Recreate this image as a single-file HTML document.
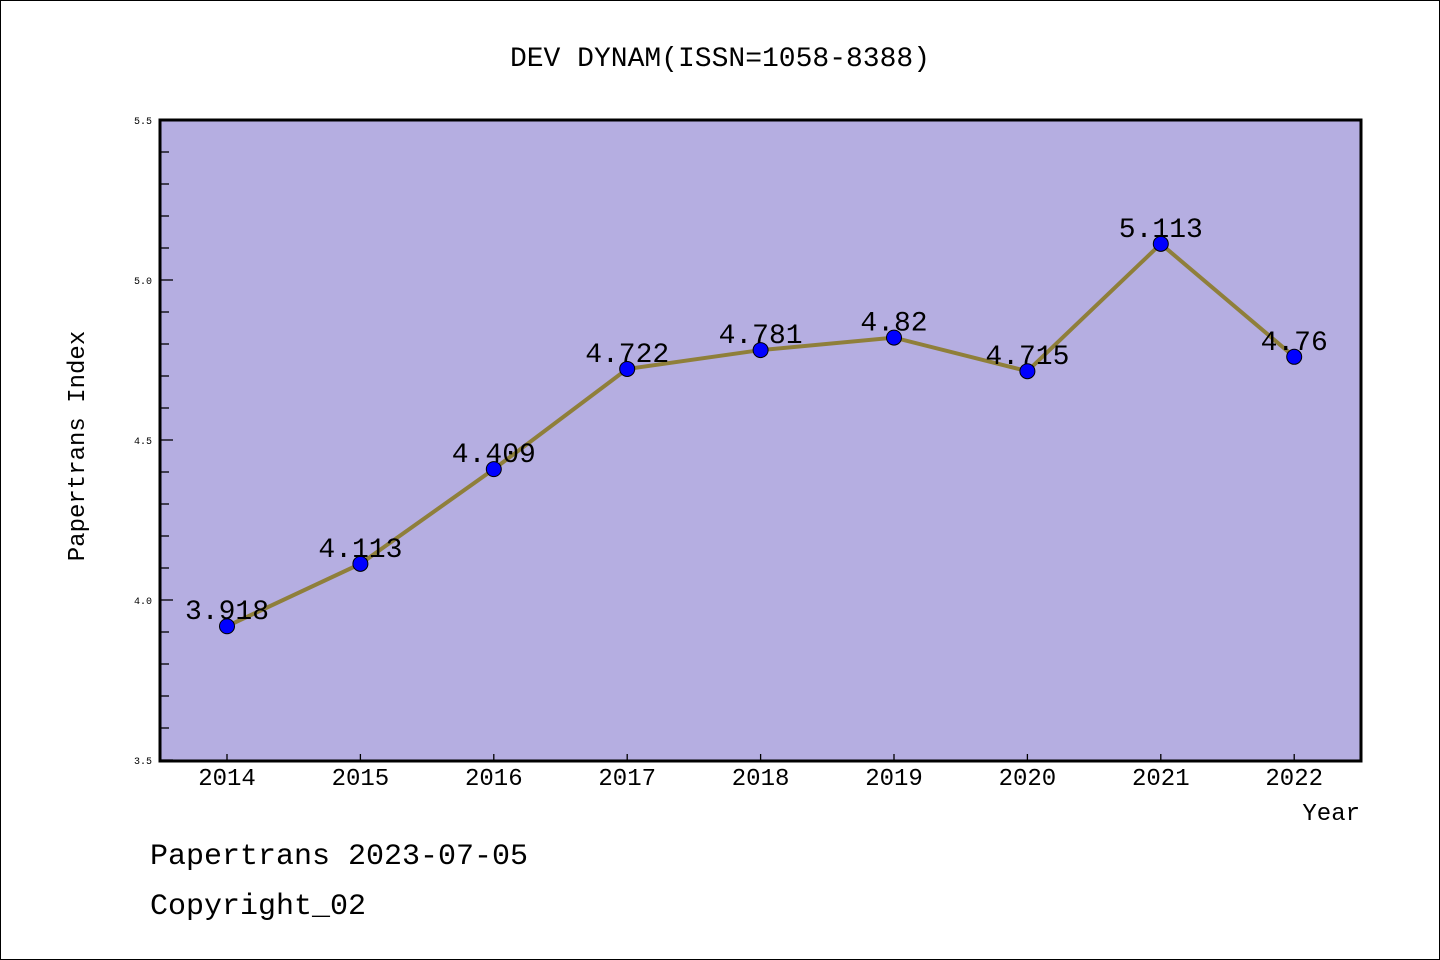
<!DOCTYPE html>
<html><head><meta charset="utf-8"><style>
body{margin:0;background:#fff}
svg{display:block}
text{font-family:"Liberation Mono","DejaVu Sans Mono",monospace;fill:#000}
</style></head><body>
<svg width="1440" height="960">
<rect x="0.5" y="0.5" width="1439" height="959" fill="#fff" stroke="#000"/>
<text x="720" y="66" font-size="28" text-anchor="middle">DEV DYNAM(ISSN=1058-8388)</text>
<rect x="160" y="120" width="1201" height="641" fill="#b5aee1"/>
<g id="yaxis"></g>
<g id="xaxis"></g>
<g id="series"></g>
<rect x="160" y="120" width="1201" height="641" fill="none" stroke="#000" stroke-width="3"/>
<text transform="translate(84,446) rotate(-90)" font-size="24" text-anchor="middle">Papertrans Index</text>
<text x="1360" y="820" font-size="24" text-anchor="end">Year</text>
<text x="150" y="864" font-size="30">Papertrans 2023-07-05</text>
<text x="150" y="914" font-size="30">Copyright_02</text>
</svg>
<script>
const years=["2014","2015","2016","2017","2018","2019","2020","2021","2022"];
const values=[3.918,4.113,4.409,4.722,4.781,4.82,4.715,5.113,4.76];
const valueLabels=["3.918","4.113","4.409","4.722","4.781","4.82","4.715","5.113","4.76"];
const yTicks=["3.5","4.0","4.5","5.0","5.5"];
const NS="http://www.w3.org/2000/svg";
function y(v){return 760-(v-3.5)*320;}
function x(i){return 227+i*133.4;}
function mk(t,a,p){const e=document.createElementNS(NS,t);for(const k in a)e.setAttribute(k,a[k]);p.appendChild(e);return e;}
const ya=document.getElementById('yaxis'),xa=document.getElementById('xaxis'),s=document.getElementById('series');
for(let v=3.5;v<=5.5001;v+=0.1){const major=Math.abs(v*2-Math.round(v*2))<1e-6;
const l=mk('line',{x1:160,x2:major?173:169,y1:y(v),y2:y(v),stroke:'#000','stroke-width':1.3},ya);

}
yTicks.forEach(t=>{const e=mk('text',{x:152,y:y(parseFloat(t))+4,'font-size':10,'text-anchor':'end'},ya);e.textContent=t;

});
years.forEach((yr,i)=>{const l=mk('line',{x1:x(i),x2:x(i),y1:754,y2:761,stroke:'#000','stroke-width':1.3},xa);


const t=mk('text',{x:x(i),y:785,'font-size':24,'text-anchor':'middle'},xa);t.textContent=yr;

});
const pl=mk('polyline',{points:values.map((v,i)=>x(i)+','+y(v)).join(' '),fill:'none',stroke:'#8f7f3a','stroke-width':4},s);


values.forEach((v,i)=>{const c=mk('circle',{cx:x(i),cy:y(v),r:7.5,fill:'#0000ff',stroke:'#000','stroke-width':1},s);


const t=mk('text',{x:x(i),y:y(v)-7,'font-size':28,'text-anchor':'middle'},s);t.textContent=valueLabels[i];

});
</script>
</body></html>
